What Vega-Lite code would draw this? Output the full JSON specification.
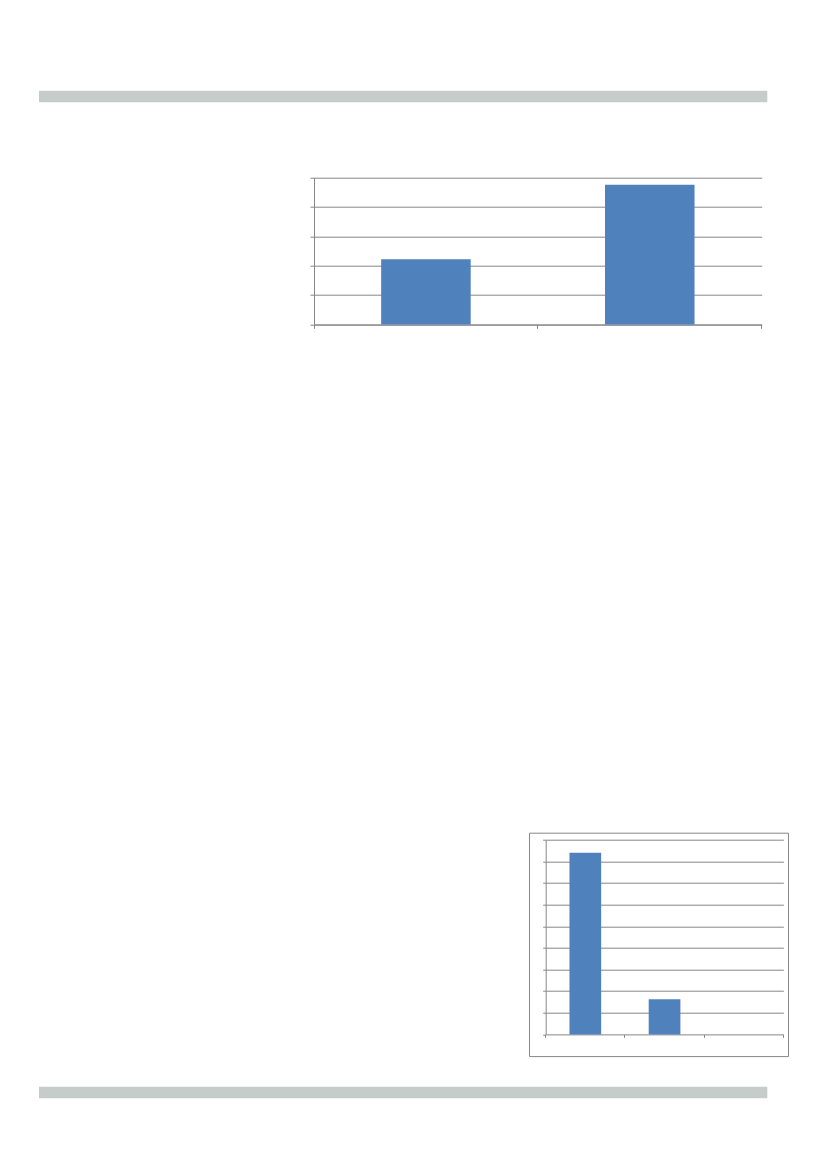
{
  "$schema": "https://vega.github.io/schema/vega-lite/v6.json",
  "description": "Page with two untitled bar charts between grey header and footer bands.",
  "padding": {"left": 39, "top": 90.7, "right": 0, "bottom": 0},
  "spacing": 0,
  "vconcat": [
    {
      "width": 728.3,
      "height": 11.6,
      "view": {"fill": "#c5ccc9", "stroke": null},
      "data": {"values": []},
      "mark": "rule",
      "encoding": {}
    },
    {
      "width": 10,
      "height": 73.8,
      "data": {"values": []},
      "mark": "rule",
      "encoding": {}
    },
    {
      "spacing": 0,
      "hconcat": [
        {
          "width": 269.8,
          "height": 1,
          "data": {"values": []},
          "mark": "rule",
          "encoding": {}
        },
        {
          "width": 447.7,
          "height": 146.7,
          "data": {
            "values": [
              {"category": "A", "value": 2.22},
              {"category": "B", "value": 4.76}
            ]
          },
          "mark": {"type": "bar", "width": {"band": 0.4}},
          "encoding": {
            "x": {
              "field": "category",
              "type": "nominal",
              "sort": null,
              "title": null,
              "scale": {"paddingInner": 0, "paddingOuter": 0},
              "axis": {"bandPosition": 1, "tickExtra": true, "grid": false}
            },
            "y": {
              "field": "value",
              "type": "quantitative",
              "title": null,
              "scale": {"domain": [0, 5], "nice": false},
              "axis": {"values": [0, 1, 2, 3, 4, 5], "grid": true}
            }
          }
        }
      ]
    },
    {
      "width": 10,
      "height": 501.5,
      "data": {"values": []},
      "mark": "rule",
      "encoding": {}
    },
    {
      "spacing": 0,
      "hconcat": [
        {
          "width": 488.1,
          "height": 1,
          "data": {"values": []},
          "mark": "rule",
          "encoding": {}
        },
        {
          "width": 259,
          "height": 223.4,
          "view": {"stroke": "#878787", "strokeWidth": 1, "fill": null},
          "data": {
            "values": [
              {"category": "A", "value": 8.4},
              {"category": "B", "value": 1.62},
              {"category": "C", "value": 0}
            ]
          },
          "encoding": {
            "x": {
              "field": "category",
              "type": "nominal",
              "sort": null,
              "title": null,
              "scale": {"domain": ["A", "B", "C"], "range": [16.7, 254.4], "paddingInner": 0, "paddingOuter": 0},
              "axis": {"offset": -21.7, "bandPosition": 1, "tickExtra": true, "grid": false, "tickSize": 3}
            }
          },
          "layer": [
            {
              "mark": {"type": "bar", "opacity": 0},
              "encoding": {
                "y": {
                  "field": "value",
                  "type": "quantitative",
                  "title": null,
                  "scale": {"domain": [0, 9], "range": [201.7, 7], "nice": false},
                  "axis": {"orient": "left", "offset": -16.7, "values": [1, 2, 3, 4, 5, 6, 7, 8, 9], "domain": false, "grid": false, "tickSize": -237.7}
                }
              }
            },
            {
              "mark": {"type": "bar", "width": {"band": 0.4}},
              "encoding": {
                "y": {
                  "field": "value",
                  "type": "quantitative",
                  "title": null,
                  "scale": {"domain": [0, 9], "range": [201.7, 7], "nice": false},
                  "axis": {"orient": "left", "offset": -16.7, "values": [0, 1, 2, 3, 4, 5, 6, 7, 8, 9], "grid": false, "tickSize": 3}
                }
              }
            }
          ],
          "resolve": {"axis": {"y": "independent"}}
        }
      ]
    },
    {
      "width": 10,
      "height": 29.5,
      "data": {"values": []},
      "mark": "rule",
      "encoding": {}
    },
    {
      "width": 728.3,
      "height": 11.6,
      "view": {"fill": "#c5ccc9", "stroke": null},
      "data": {"values": []},
      "mark": "rule",
      "encoding": {}
    }
  ],
  "config": {
    "view": {"stroke": null},
    "concat": {"spacing": 0},
    "bar": {"color": "#4f81bd"},
    "axis": {
      "labels": false,
      "domainColor": "#878787",
      "tickColor": "#878787",
      "gridColor": "#878787",
      "domainWidth": 1,
      "tickWidth": 1,
      "gridWidth": 1,
      "tickSize": 4
    }
  }
}
